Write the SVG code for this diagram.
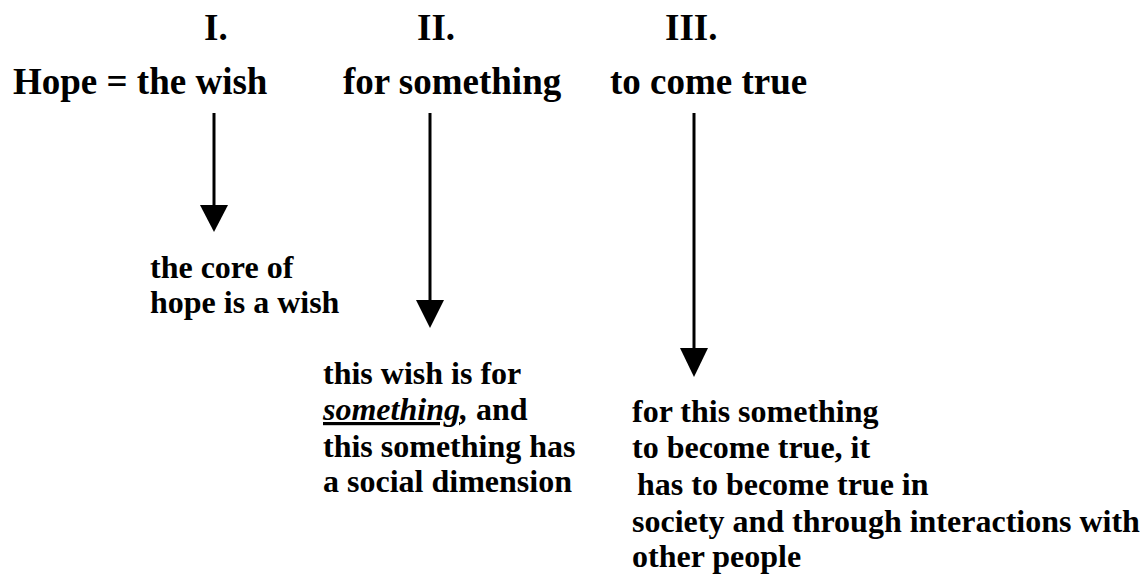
<svg xmlns="http://www.w3.org/2000/svg" width="1145" height="575" viewBox="0 0 1145 575">
<style>
.h{font-family:"Liberation Serif","Times New Roman",serif;font-weight:bold;font-size:37px;fill:#000}
.t{font-family:"Liberation Serif","Times New Roman",serif;font-weight:bold;font-size:32px;fill:#000}
.c{stroke:#000;stroke-width:3;fill:none}
.ah{fill:#000}
</style>
<rect width="1145" height="575" fill="#fff"/>
<g id="header-I"><text class="h" x="204" y="40">I.</text><text class="h" x="13" y="94">Hope = the wish</text></g>
<g id="header-II"><text class="h" x="417" y="40">II.</text><text class="h" x="343" y="94">for something</text></g>
<g id="header-III"><text class="h" x="665" y="40">III.</text><text class="h" x="610" y="94">to come true</text></g>
<g id="node-I">
<text class="t" x="150" y="278">the core of</text>
<text class="t" x="150" y="313">hope is a wish</text>
</g>
<g id="node-II">
<text class="t" x="323" y="384">this wish is for</text>
<text class="t" x="323" y="420"><tspan font-style="italic" text-decoration="underline">something</tspan><tspan font-style="italic">,</tspan> and</text>
<text class="t" x="323" y="457">this something has</text>
<text class="t" x="323" y="492">a social dimension</text>
</g>
<g id="node-III">
<text class="t" x="632" y="422">for this something</text>
<text class="t" x="632" y="458">to become true, it</text>
<text class="t" x="637" y="495">has to become true in</text>
<text class="t" x="632" y="532">society and through interactions with</text>
<text class="t" x="632" y="567">other people</text>
</g>
<g id="connectors">
<line class="c" x1="214" y1="113" x2="214" y2="206"/>
<polygon class="ah" points="200,205 228,205 214,232"/>
<line class="c" x1="430" y1="113" x2="430" y2="301"/>
<polygon class="ah" points="416,300 444,300 430,328"/>
<line class="c" x1="694" y1="113" x2="694" y2="349"/>
<polygon class="ah" points="680,348 708,348 694,377"/>
</g>
</svg>
